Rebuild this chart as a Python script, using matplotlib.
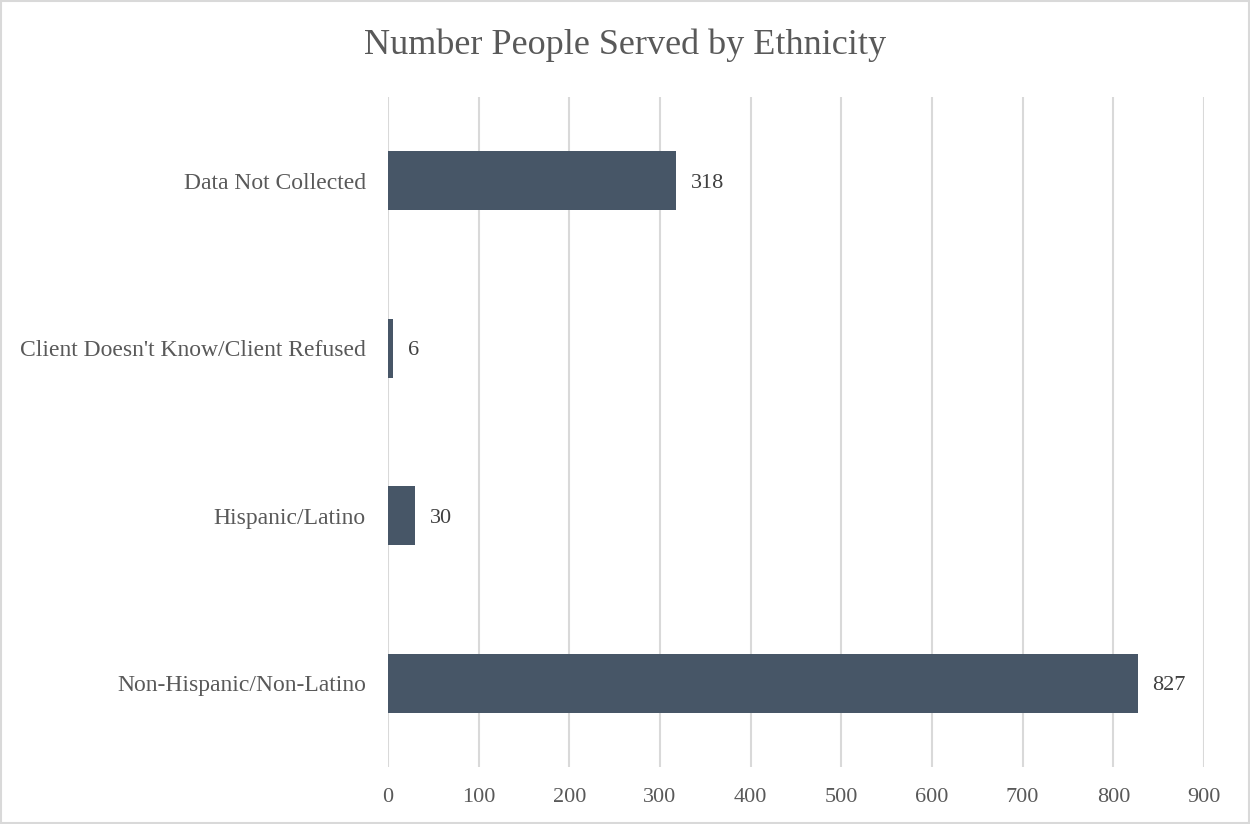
import matplotlib
matplotlib.use("Agg")
import matplotlib.pyplot as plt
from matplotlib.patches import Rectangle

categories = ["Non-Hispanic/Non-Latino", "Hispanic/Latino",
              "Client Doesn't Know/Client Refused", "Data Not Collected"]
values = [827, 30, 6, 318]
xticks = [0, 100, 200, 300, 400, 500, 600, 700, 800, 900]

plt.rcParams['font.family'] = ['Liberation Serif', 'DejaVu Serif']
text_color = '#595959'
bar_color = '#475667'

fig = plt.figure(figsize=(12.5, 8.24), dpi=100)
ax = fig.add_axes([0.3104, 0.0692, 0.6528, 0.8131])

y = list(range(len(categories)))
ax.barh(y, values, height=0.35, color=bar_color, zorder=3)
for yi, v in zip(y, values):
    ax.text(v + 16, yi, str(v), va='center_baseline', ha='left', fontsize=16, color='#404040')

ax.set_xlim(0, 900)
ax.set_ylim(-0.5, 3.5)
ax.set_xticks(xticks)
ax.set_xticklabels([str(t) for t in xticks], fontsize=16, color=text_color)
ax.set_yticks(y)
ax.set_yticklabels(categories, fontsize=17, color=text_color)
ax.tick_params(axis='both', length=0)
ax.tick_params(axis='x', pad=15)
ax.tick_params(axis='y', pad=16)
ax.grid(axis='x', color='#d9d9d9', linewidth=1.5, zorder=0)
for s in ax.spines.values():
    s.set_visible(False)

fig.text(0.5, 0.945, "Number People Served by Ethnicity", ha='center', va='center',
         fontsize=26, color=text_color)

fig.patches.append(Rectangle((0.001, 0.001), 0.998, 0.998, transform=fig.transFigure,
                             fill=False, edgecolor='#d9d9d9', linewidth=1.5))

fig.savefig("out.png", dpi=100)
